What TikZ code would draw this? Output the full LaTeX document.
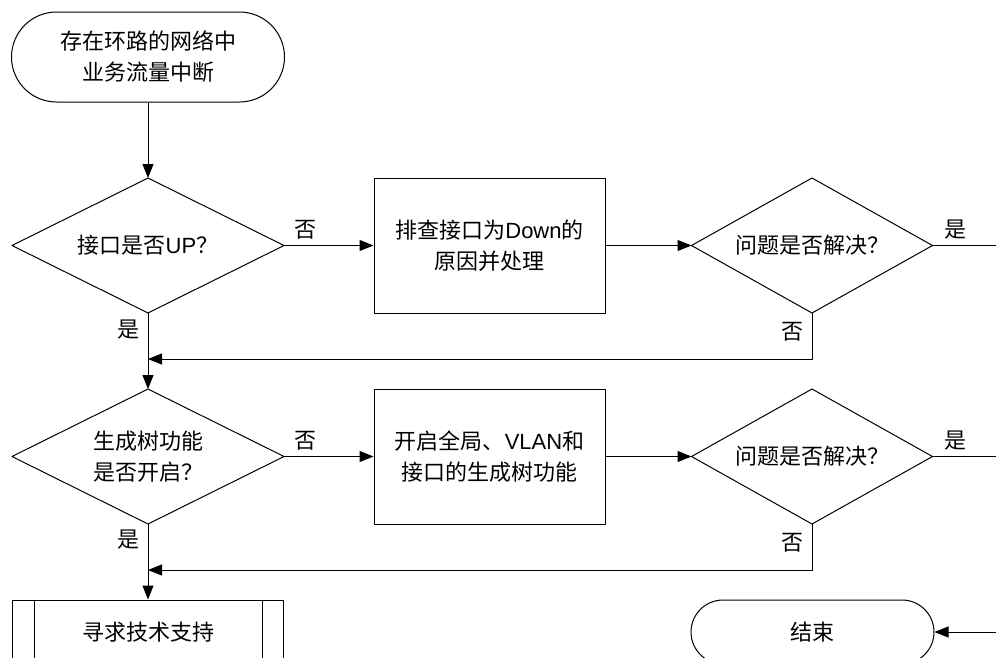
\documentclass[tikz,border=0pt]{standalone}
\usepackage{fontspec}
\setmainfont{Noto Sans CJK SC}
\newfontfamily\lat{Liberation Sans}
\usetikzlibrary{shapes.geometric,arrows.meta}
\begin{document}
\begin{tikzpicture}[x=1pt,y=-1pt,line width=1pt,line join=round,
    >={Triangle[length=14pt,width=11pt]},
    font=\fontsize{22}{31}\selectfont,
    term/.style={draw,align=center,minimum width=#1,minimum height=90pt,rounded corners=45pt},
    endterm/.style={draw,align=center,minimum width=243pt,minimum height=64pt,rounded corners=32pt},
    decision/.style={draw,diamond,aspect=2,align=center,inner sep=0pt,outer sep=0pt,minimum width=#1,minimum height=135pt},
    process/.style={draw,rectangle,align=center,minimum width=231pt,minimum height=135pt},
    subproc/.style={draw,rectangle,align=center,minimum width=271pt,minimum height=64pt}]
    \useasboundingbox (0,0) rectangle (996,657);
    \clip (0,0) rectangle (996,657);
    % top row
    \node[term=273pt] (start) at (148,57) {存在环路的网络中\\业务流量中断};
    \node[decision=272pt] (d1) at (148,245.5) {接口是否{\lat UP}？};
    \node[process] (b1) at (489.5,245.5) {排查接口为{\lat Down}的\\原因并处理};
    \node[decision=241pt] (d2) at (812,245.5) {问题是否解决？};
    \coordinate (r1) at (996,245.5);
    \coordinate (m1) at (148,359);
    % second row
    \node[decision=272pt] (d3) at (148,456.5) {生成树功能\\是否开启？};
    \node[process] (b2) at (489.5,456.5) {开启全局、{\lat VLAN}和\\接口的生成树功能};
    \node[decision=241pt] (d4) at (812,456.5) {问题是否解决？};
    \coordinate (r2) at (996,456.5);
    \coordinate (m2) at (148,570);
    % bottom row
    \node[subproc] (help) at (148,632) {寻求技术支持};
    \node[endterm] (fin) at (812.5,632) {结束};
    \coordinate (r3) at (996,632);
    \draw ([xshift=22pt]help.north west)--([xshift=22pt]help.south west)
          ([xshift=-22pt]help.north east)--([xshift=-22pt]help.south east);
    % connectors
    \draw[->] (start)--(d1);
    \draw[->] (d1)--node[pos=0.24,above=2pt](n1){否}(b1);
    \draw[->] (b1)--(d2);
    \draw (d2.east)--node[pos=0.36,above=2pt](y1){是}(r1);
    \draw[->] (d2.south)|-node[pos=0.2,left=5pt](n2){否}(m1);
    \draw[->] (d1.south)--node[pos=0.22,left=5pt](y2){是}(d3.north);
    \draw[->] (d3)--node[pos=0.24,above=2pt](n3){否}(b2);
    \draw[->] (b2)--(d4);
    \draw (d4.east)--node[pos=0.36,above=2pt](y3){是}(r2);
    \draw[->] (d4.south)|-node[pos=0.2,left=5pt](n4){否}(m2);
    \draw[->] (d3.south)--node[pos=0.21,left=5pt](y4){是}(help.north);
    \draw[->] (r3)--(fin);
\end{tikzpicture}
\end{document}
